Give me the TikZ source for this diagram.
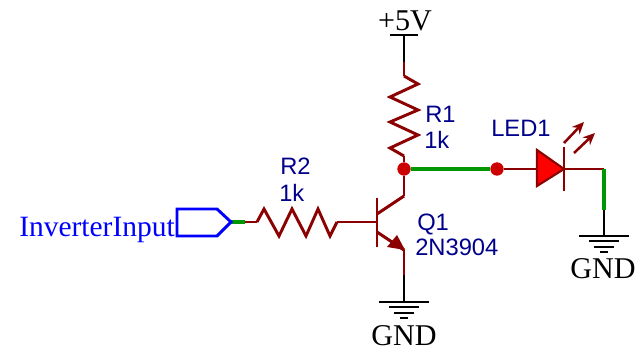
\documentclass[tikz,border=0pt]{standalone}
\usepackage{fontspec}
\usetikzlibrary{arrows.meta}
\setmainfont{Liberation Serif}
\setsansfont{Liberation Sans}
\definecolor{pinred}{RGB}{139,0,0}
\definecolor{wiregreen}{RGB}{0,150,0}
\definecolor{labelblue}{RGB}{0,0,139}
\begin{document}
\begin{tikzpicture}[x=0.75pt,y=-0.75pt]
\tikzstyle{pin_style} = [pinred, line width=2.2pt, line join=miter]
\tikzstyle{wire_style} = [wiregreen, line width=2.3pt]
\tikzstyle{power_style} = [black, line width=2.2pt]
\tikzstyle{dot_style} = [circle, fill=red!80!black, inner sep=0pt, minimum size=10pt]
\tikzstyle{part_style} = [anchor=base west, inner sep=0pt, labelblue, font=\sffamily\fontsize{17.8}{20}\selectfont]
\tikzstyle{power_label} = [anchor=base, inner sep=0pt, black, font=\fontsize{22.6}{24}\selectfont]
\tikzstyle{ray_tip} = [-{Stealth[length=9pt,width=8pt,fill=red!85!black]}, pinred, line width=1.9pt]
    \useasboundingbox (0,0) rectangle (635,352);

    % points of the circuit
    \coordinate (vcc) at (404,35);
    \coordinate (vccpin) at (404,62);
    \coordinate (r1top) at (404,76);
    \coordinate (r1bot) at (404,156);
    \node[dot_style] (j1) at (404,169) {};
    \node[dot_style] (j2) at (497,169) {};
    \coordinate (ledin) at (537,169);
    \coordinate (ledout) at (564,169);
    \coordinate (ledpin) at (604,169);
    \coordinate (ledwire) at (604,210);
    \coordinate (gnd1) at (604,236);
    \coordinate (coll) at (404,196);
    \coordinate (base) at (377,222);
    \coordinate (emit) at (404,250);
    \coordinate (emitpin) at (404,275);
    \coordinate (gnd2) at (404,302);
    \coordinate (r2in) at (257,222);
    \coordinate (r2out) at (337,222);
    \coordinate (port) at (231,222);
    \coordinate (portpin) at (245,222);

    % wires
    \draw[power_style] (vcc) -- (vccpin);
    \draw[pin_style] (vccpin) -- (r1top);
    \draw[pin_style] (r1bot) -- (j1);
    \draw[pin_style] (j1) -- (coll);
    \draw[wire_style] (j1) -- (j2);
    \draw[pin_style] (j2) -- (ledin);
    \draw[pin_style] (ledout) -- (ledpin);
    \draw[wire_style] (ledpin) -- (ledwire);
    \draw[power_style] (ledwire) -- (gnd1);
    \draw[pin_style] (emit) -- (emitpin);
    \draw[power_style] (emitpin) -- (gnd2);
    \draw[wire_style] (port) -- (portpin);
    \draw[pin_style] (portpin) -- (r2in);
    \draw[pin_style] (r2out) -- (base);

    % R1 and R2
    \draw[pin_style] (r1top) -- ++(14,8) -- ++(-28,13) -- ++(28,13) -- ++(-28,12) -- ++(28,13) -- ++(-28,13) -- (r1bot);
    \draw[pin_style] (r2in) -- ++(7,-13) -- ++(15,27) -- ++(13,-27) -- ++(14,27) -- ++(12,-27) -- ++(12,27) -- (r2out);

    % Q1
    \draw[pin_style] (377,198) -- (377,247);
    \draw[pin_style] (377,214) -- (coll);
    \draw[pin_style] (377,232) -- (emit);
    \fill[pinred] (397,235) -- (405,250) -- (387,247) -- cycle;

    % LED1
    \draw[pinred, line width=1.6pt, fill=red] (537,150) -- (ledout) -- (537,186) -- cycle;
    \draw[pin_style] (564,147) -- (564,191);
    \draw[ray_tip] (564,143) -- (584,122);
    \draw[ray_tip] (574,153) -- (595,133);

    % port
    \draw[blue, line width=2.2pt] (177,209) -- (217,209) -- (port) -- (217,236) -- (177,236) -- cycle;

    % supply symbols
    \draw[power_style] (390,35) -- (418,35);
    \foreach \gx/\gy in {604/236, 404/302} {
        \draw[power_style] (\gx-25,\gy) -- (\gx+25,\gy);
        \draw[power_style] (\gx-15,\gy+5) -- (\gx+15,\gy+5);
        \draw[power_style] (\gx-10,\gy+11) -- (\gx+10,\gy+11);
        \draw[power_style] (\gx-4,\gy+16) -- (\gx+4,\gy+16);
    }

    % labels
    \node[power_label] (vcclabel) at (405,31) {+5V};
    \node[power_label] (gndlabel1) at (603,279) {GND};
    \node[power_label] (gndlabel2) at (404,345) {GND};
    \node[power_label, anchor=base east, blue, font=\fontsize{22.1}{24}\selectfont] (portlabel) at (175,237) {InverterInput};
    \node[part_style] (r1name) at (425,123) {R1};
    \node[part_style] (r1value) at (424,149) {1k};
    \node[part_style] (r2name) at (280,175) {R2};
    \node[part_style] (r2value) at (279,202) {1k};
    \node[part_style] (ledname) at (491,137) {LED1};
    \node[part_style] (q1name) at (417,231) {Q1};
    \node[part_style] (q1value) at (415,256) {2N3904};
\end{tikzpicture}
\end{document}
